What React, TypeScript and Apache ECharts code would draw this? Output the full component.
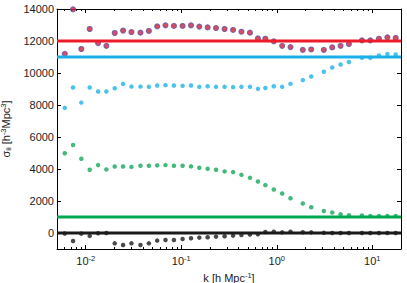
import React, { useEffect, useRef } from "react";
import * as echarts from "echarts";

const kValues = [0.00603, 0.00736, 0.00899, 0.0110, 0.01346, 0.01644, 0.0201, 0.0246, 0.0301, 0.0374, 0.0458, 0.0560, 0.0684, 0.0838, 0.1033, 0.1265, 0.1546, 0.1889, 0.2312, 0.2844, 0.349, 0.4266, 0.524, 0.635, 0.760, 0.931, 1.140, 1.393, 1.875, 2.296, 3.112, 3.811, 4.659, 5.70, 7.80, 9.55, 11.75, 14.41, 17.6];
const purpleValues = [11200, 13980, 11500, 12750, 11870, 11700, 12500, 12650, 12560, 12520, 12630, 12910, 12980, 12940, 12940, 12980, 12900, 12850, 12810, 12750, 12690, 12580, 12520, 12160, 12140, 11980, 11700, 11620, 11450, 11470, 11450, 11600, 11700, 11810, 12040, 12040, 12140, 12230, 12190];
const cyanValues = [7820, 9090, 8150, 9090, 8840, 8840, 9050, 9320, 9150, 9150, 9135, 9216, 9241, 9216, 9197, 9216, 9135, 9176, 9135, 9135, 9116, 9135, 9135, 9009, 9060, 9176, 9135, 9323, 9555, 9781, 10075, 10345, 10533, 10683, 10953, 10953, 11097, 11185, 11160];
const greenValues = [4980, 5500, 4640, 3950, 4245, 3975, 4160, 4160, 4130, 4200, 4200, 4226, 4245, 4200, 4200, 4163, 4075, 4013, 3950, 3850, 3806, 3636, 3448, 3222, 2991, 2721, 2470, 2176, 1843, 1611, 1379, 1279, 1172, 1110, 1091, 1066, 1066, 1066, 1066];
const blackValues = [-30, -500, -40, -180, -20, 0, -646, -752, -646, -752, -646, -476, -439, -439, -376, -332, -288, -270, -226, -207, -163, -125, -100, -80, 60, 80, 40, 80, 50, 40, 10, 0, 0, 0, 0, 0, 0, 0, 0];
const refLevels = { red: 12000, cyan: 11000, green: 1000, black: 0 };
const xRange = [0.005, 20];
const yRange = [-1000, 14000];
const yTicks = [0, 2000, 4000, 6000, 8000, 10000, 12000, 14000];
const xMajorTicks = [0.01, 0.1, 1, 10];
const xMinorTicks: number[] = [];
for (const d of [0.001, 0.01, 0.1, 1, 10]) {
  for (let m = 2; m <= 9; m++) {
    const v = +(d * m).toPrecision(6);
    if (v >= xRange[0] && v <= xRange[1]) xMinorTicks.push(v);
  }
}

const FONT = "'Liberation Sans', Arial, sans-serif";
const TXT = "#222";

export default function App() {
  const ref = useRef<HTMLDivElement>(null);
  useEffect(() => {
    if (!ref.current) return;
    const chart = echarts.init(ref.current, undefined, { renderer: "svg" });
    const pts = (vals: number[]) => kValues.map((k, i) => [k, vals[i]]);
    const hline = (v: number) => [[xRange[0], v], [xRange[1], v]];
    const expOf = (v: number) => Math.round(Math.log10(v));
    const baseX = {
      type: "log" as const,
      logBase: 10,
      min: xRange[0],
      max: xRange[1],
      splitLine: { show: false },
      axisPointer: { show: false },
    };
    const baseY = {
      type: "value" as const,
      min: yRange[0],
      max: yRange[1],
      splitLine: { show: false },
    };
    chart.setOption({
      animation: false,
      backgroundColor: "#fff",
      grid: { left: 57, right: 6, top: 9, bottom: 34, containLabel: false, outerBoundsMode: "none" },
      xAxis: [
        {
          ...baseX,
          position: "bottom",
          axisLine: { show: true, onZero: false, lineStyle: { color: "#000", width: 1 } },
          axisTick: { show: true, inside: true, length: 4, customValues: xMajorTicks, lineStyle: { color: "#000" } },
          axisLabel: {
            show: true,
            customValues: xMajorTicks,
            margin: 5,
            formatter: (v: number) => `{b|10}{s|${expOf(v)}}`,
            rich: {
              b: { fontSize: 11, fontFamily: FONT, color: TXT },
              s: { fontSize: 7.5, fontFamily: FONT, color: TXT, verticalAlign: "top", padding: [0, 0, 6, 0] },
            },
          },
          name: "{n|k [h Mpc}{s|-1}{n|]}",
          nameLocation: "middle",
          nameGap: 20,
          nameTextStyle: {
            rich: {
              n: { fontSize: 11, fontFamily: FONT, color: TXT },
              s: { fontSize: 7.5, fontFamily: FONT, color: TXT, padding: [0, 0, 6, 0] },
            },
          },
        },
        {
          ...baseX,
          position: "bottom",
          axisLine: { show: false, onZero: false },
          axisTick: { show: true, inside: true, length: 2, customValues: xMinorTicks, lineStyle: { color: "#000" } },
          axisLabel: { show: false },
        },
        {
          ...baseX,
          position: "top",
          axisLine: { show: true, onZero: false, lineStyle: { color: "#000", width: 1 } },
          axisTick: { show: true, inside: true, length: 4, customValues: xMajorTicks, lineStyle: { color: "#000" } },
          axisLabel: { show: false },
        },
        {
          ...baseX,
          position: "top",
          axisLine: { show: false, onZero: false },
          axisTick: { show: true, inside: true, length: 2, customValues: xMinorTicks, lineStyle: { color: "#000" } },
          axisLabel: { show: false },
        },
      ],
      yAxis: [
        {
          ...baseY,
          position: "left",
          axisLine: { show: true, onZero: false, lineStyle: { color: "#000", width: 1 } },
          axisTick: { show: true, inside: true, length: 4, customValues: yTicks, lineStyle: { color: "#000" } },
          axisLabel: {
            show: true,
            customValues: yTicks,
            margin: 3,
            fontSize: 11,
            fontFamily: FONT,
            color: TXT,
            formatter: (v: number) => String(v),
          },
          name: "{n|σ}{b|ii}{n| [h}{s|-3}{n|Mpc}{s|3}{n|]}",
          nameLocation: "middle",
          nameRotate: 90,
          nameGap: 36,
          nameTextStyle: {
            rich: {
              n: { fontSize: 11, fontFamily: FONT, color: TXT },
              s: { fontSize: 7.5, fontFamily: FONT, color: TXT, padding: [0, 0, 6, 0] },
              b: { fontSize: 7.5, fontFamily: FONT, color: TXT, padding: [5, 0, 0, 0] },
            },
          },
        },
        {
          ...baseY,
          position: "right",
          axisLine: { show: true, onZero: false, lineStyle: { color: "#000", width: 1 } },
          axisTick: { show: true, inside: true, length: 4, customValues: yTicks, lineStyle: { color: "#000" } },
          axisLabel: { show: false },
        },
      ],
      series: [
        {
          type: "scatter",
          data: pts(purpleValues),
          symbolSize: 5,
          itemStyle: { color: "#d31f3a", borderColor: "#5e4f9e", borderWidth: 1.1 },
          z: 2,
        },
        { type: "scatter", data: pts(cyanValues), symbolSize: 4.5, itemStyle: { color: "#1eb2ea" }, z: 2 },
        { type: "scatter", data: pts(greenValues), symbolSize: 4.5, itemStyle: { color: "#14a85a" }, z: 2 },
        { type: "scatter", data: pts(blackValues), symbolSize: 4.5, itemStyle: { color: "#1a1a1a" }, z: 2 },
        { type: "line", data: hline(refLevels.red), symbol: "none", lineStyle: { color: "#ec1c2a", width: 3 }, z: 3 },
        { type: "line", data: hline(refLevels.cyan), symbol: "none", lineStyle: { color: "#1cb0ea", width: 3 }, z: 3 },
        { type: "line", data: hline(refLevels.green), symbol: "none", lineStyle: { color: "#00a650", width: 3 }, z: 3 },
        { type: "line", data: hline(refLevels.black), symbol: "none", lineStyle: { color: "#1a1a1a", width: 3 }, z: 3 },
      ],
    });
    return () => chart.dispose();
  }, []);
  return (
    <div
      ref={ref}
      style={{ position: "fixed", left: 0, top: 0, width: 407, height: 283, background: "#fff" }}
    />
  );
}
